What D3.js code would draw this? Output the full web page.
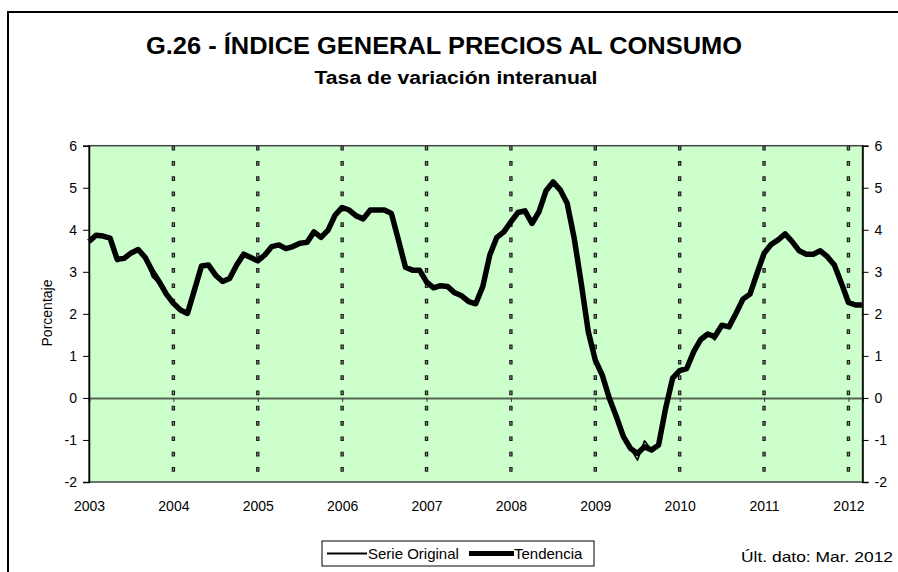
<!DOCTYPE html>
<html>
<head>
  <meta charset="utf-8">
  <title>G.26 - IPC</title>
  <style>
    body { margin: 0; background: #fff; }
    svg { display: block; font-family: Arial, "Liberation Sans", sans-serif; }
  </style>
</head>
<body>
  <div id="chart"></div>

  <script src="https://cdn.jsdelivr.net/npm/d3@7"></script>
  <script>

    // años que etiquetan el eje X (cada enero)
    let years = ['2003','2004','2005','2006','2007','2008','2009','2010','2011','2012'];

    // Tendencia, mensual ene-2003 .. mar-2012
    let tendencia = [
      3.72, 3.87, 3.85, 3.80, 3.30, 3.32, 3.45, 3.53, 3.34, 3.02, 2.76, 2.47,
      2.25, 2.09, 2.01, 2.57, 3.14, 3.16, 2.92, 2.77, 2.84, 3.16, 3.42, 3.34,
      3.26, 3.40, 3.60, 3.64, 3.55, 3.60, 3.68, 3.70, 3.95, 3.82, 3.99, 4.35,
      4.53, 4.47, 4.33, 4.26, 4.47, 4.47, 4.47, 4.39, 3.76, 3.11, 3.04, 3.04,
      2.76, 2.62, 2.67, 2.65, 2.50, 2.43, 2.29, 2.24, 2.65, 3.40, 3.82, 3.95,
      4.19, 4.41, 4.45, 4.15, 4.43, 4.93, 5.14, 4.95, 4.63, 3.80, 2.73, 1.58,
      0.90, 0.54, -0.01, -0.45, -0.92, -1.20, -1.32, -1.16, -1.24, -1.12, -0.25, 0.47,
      0.65, 0.70, 1.10, 1.39, 1.52, 1.46, 1.73, 1.69, 2.01, 2.35, 2.47, 2.96,
      3.44, 3.65, 3.76, 3.90, 3.72, 3.50, 3.42, 3.42, 3.50, 3.36, 3.16, 2.73,
      2.27, 2.21, 2.21
    ];

    // Serie original, mensual ene-2003 .. mar-2012
    let original = [
      3.72, 3.87, 3.85, 3.80, 3.24, 3.32, 3.45, 3.53, 3.34, 2.88, 2.72, 2.47,
      2.25, 2.05, 1.97, 2.57, 3.14, 3.16, 2.92, 2.77, 2.84, 3.16, 3.42, 3.34,
      3.26, 3.40, 3.60, 3.64, 3.55, 3.60, 3.68, 3.76, 3.95, 3.80, 3.99, 4.35,
      4.53, 4.47, 4.33, 4.26, 4.47, 4.47, 4.47, 4.39, 3.76, 3.11, 3.04, 3.04,
      2.76, 2.62, 2.67, 2.65, 2.50, 2.43, 2.29, 2.24, 2.65, 3.40, 3.82, 3.95,
      4.19, 4.41, 4.47, 4.15, 4.43, 4.93, 5.14, 4.95, 4.63, 3.80, 2.73, 1.58,
      0.90, 0.54, -0.01, -0.45, -0.92, -1.20, -1.48, -1.02, -1.24, -1.12, -0.25, 0.47,
      0.65, 0.70, 1.10, 1.39, 1.52, 1.38, 1.73, 1.69, 2.01, 2.35, 2.47, 2.96,
      3.44, 3.65, 3.76, 3.90, 3.72, 3.50, 3.42, 3.42, 3.50, 3.36, 3.16, 2.73,
      2.27, 2.21, 2.21
    ];

    let yTicks = [-2, -1, 0, 1, 2, 3, 4, 5, 6];

    function translate(x, y) {
      return 'translate(' + x + ',' + y + ')';
    }

    let svgWidth = 898;
    let svgHeight = 572;
    let margin = {top: 145.7, right: 35.5, bottom: 90, left: 89};
    let width = svgWidth - margin.left - margin.right;
    let height = 482 - margin.top;

    let svg = d3.select('#chart')
      .append('svg')
        .attr('width', svgWidth)
        .attr('height', svgHeight);

    // marco exterior
    svg.append('rect')
      .attr('x', 8).attr('y', 12)
      .attr('width', 1000).attr('height', 1000)
      .attr('fill', 'none')
      .attr('stroke', '#000')
      .attr('stroke-width', 2);

    // títulos (letra estrecha como en el original)
    svg.append('text')
      .attr('x', 444).attr('y', 54)
      .attr('text-anchor', 'middle')
      .attr('textLength', 596).attr('lengthAdjust', 'spacingAndGlyphs')
      .style('font-size', '24px').style('font-weight', 'bold')
      .text('G.26 - ÍNDICE GENERAL PRECIOS AL CONSUMO');
    svg.append('text')
      .attr('x', 456).attr('y', 84)
      .attr('text-anchor', 'middle')
      .attr('textLength', 283).attr('lengthAdjust', 'spacingAndGlyphs')
      .style('font-size', '18px').style('font-weight', 'bold')
      .text('Tasa de variación interanual');

    let g = svg.append('g').attr('transform', translate(margin.left, margin.top));

    let x = d3.scaleLinear().domain([0, tendencia.length - 1]).range([0, width]);
    let y = d3.scaleLinear().domain([-2, 6]).range([height, 0]);

    // fondo del área de gráfico
    g.append('rect')
      .attr('width', width).attr('height', height)
      .attr('fill', '#ccffcc');

    // líneas verticales discontinuas en cada enero
    let yearIdx = years.map((d, i) => i * 12);
    let vlines = g.append('g');
    vlines.selectAll('line.dk')
      .data(yearIdx.slice(1))
      .enter().append('line')
        .attr('class', 'dk')
        .attr('x1', d => x(d)).attr('x2', d => x(d))
        .attr('y1', 0).attr('y2', height - 10)
        .attr('stroke', '#1a1a1a')
        .attr('stroke-width', 3.4)
        .attr('stroke-dasharray', '4.7,10.6');
    vlines.selectAll('line.lt')
      .data(yearIdx.slice(1))
      .enter().append('line')
        .attr('class', 'lt')
        .attr('x1', d => x(d)).attr('x2', d => x(d))
        .attr('y1', 1).attr('y2', height - 10)
        .attr('stroke', '#8a8a8a')
        .attr('stroke-width', 1.2)
        .attr('stroke-dasharray', '2.7,12.6');

    // línea del cero con marcas
    let zeroAxis = d3.axisBottom(x).tickValues(yearIdx).tickSize(4).tickFormat('');
    g.append('g')
      .attr('transform', translate(0, y(0)))
      .call(zeroAxis)
      .call(s => s.select('.domain').attr('stroke', '#556655').attr('stroke-width', 2))
      .call(s => s.selectAll('.tick line').attr('stroke', '#333'));

    // series
    let line = d3.line()
      .x((d, i) => x(i))
      .y(d => y(d));

    g.append('path')
      .datum(original)
      .attr('fill', 'none')
      .attr('stroke', '#000')
      .attr('stroke-width', 1.6)
      .attr('stroke-linejoin', 'round')
      .attr('d', line);

    g.append('path')
      .datum(tendencia)
      .attr('fill', 'none')
      .attr('stroke', '#000')
      .attr('stroke-width', 5.5)
      .attr('stroke-linejoin', 'round')
      .attr('d', line);

    // borde del área
    g.append('rect')
      .attr('width', width).attr('height', height)
      .attr('fill', 'none')
      .attr('stroke', '#444')
      .attr('stroke-width', 1.5);

    // ejes Y (guion normal en los negativos)
    let fmt = d => String(d);
    let yAxisL = d3.axisLeft(y).tickValues(yTicks).tickSize(6).tickPadding(6).tickFormat(fmt);
    let yAxisR = d3.axisRight(y).tickValues(yTicks).tickSize(6).tickPadding(6).tickFormat(fmt);

    g.append('g')
      .call(yAxisL)
      .call(s => s.select('.domain').attr('stroke', '#000').attr('stroke-width', 1.5))
      .call(s => s.selectAll('text').style('font-size', '14px').attr('fill', '#000'));

    g.append('g')
      .attr('transform', translate(width, 0))
      .call(yAxisR)
      .call(s => s.select('.domain').attr('stroke', '#000').attr('stroke-width', 1.5))
      .call(s => s.selectAll('text').style('font-size', '14px').attr('fill', '#000'));

    // etiquetas de años
    let xAxis = d3.axisBottom(x).tickValues(yearIdx).tickSize(0).tickPadding(19)
      .tickFormat((d, i) => years[i]);
    g.append('g')
      .attr('transform', translate(0, height))
      .call(xAxis)
      .call(s => s.select('.domain').remove())
      .call(s => s.selectAll('text').style('font-size', '14px').attr('fill', '#000'));

    // título eje Y
    svg.append('text')
      .attr('transform', translate(52, 313) + ' rotate(-90)')
      .attr('text-anchor', 'middle')
      .style('font-size', '14px')
      .text('Porcentaje');

    // leyenda
    let lg = svg.append('g').attr('transform', translate(322, 541));
    lg.append('rect')
      .attr('width', 272).attr('height', 25)
      .attr('fill', '#fff').attr('stroke', '#000').attr('stroke-width', 1);
    lg.append('line')
      .attr('x1', 5).attr('x2', 45).attr('y1', 12.5).attr('y2', 12.5)
      .attr('stroke', '#000').attr('stroke-width', 2);
    lg.append('text')
      .attr('x', 46).attr('y', 18)
      .style('font-size', '15px')
      .text('Serie Original');
    lg.append('line')
      .attr('x1', 147).attr('x2', 192).attr('y1', 12.5).attr('y2', 12.5)
      .attr('stroke', '#000').attr('stroke-width', 5);
    lg.append('text')
      .attr('x', 192).attr('y', 18)
      .style('font-size', '15px')
      .text('Tendencia');

    svg.append('text')
      .attr('x', 893).attr('y', 562)
      .attr('text-anchor', 'end')
      .attr('textLength', 152).attr('lengthAdjust', 'spacingAndGlyphs')
      .style('font-size', '15px')
      .text('Últ. dato: Mar. 2012');

  </script>
</body>
</html>
